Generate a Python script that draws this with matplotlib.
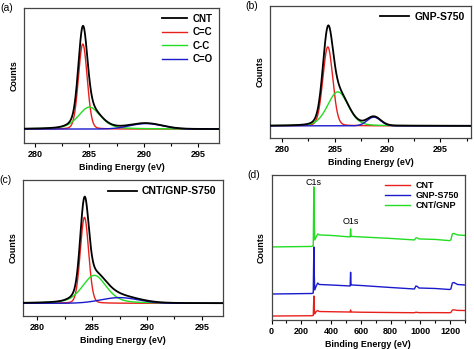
import numpy as np
import matplotlib
matplotlib.use('Agg')
from matplotlib import pyplot as plt
from matplotlib.ticker import MultipleLocator

plt.rcParams['font.family'] = ['Liberation Sans', 'DejaVu Sans']

# C1s fits: one row per component (C=C, C-C, C=O): centre / eV, height, fwhm / eV, lorentz fraction
cnt_centers = [284.4, 285.0, 290.2]
cnt_heights = [85, 22, 5.5]
cnt_fwhm = [0.95, 2.4, 3.5]
cnt_eta = [0.1, 0.4, 0.0]

gnp_centers = [284.35, 285.3, 288.7]
gnp_heights = [79, 34, 8.7]
gnp_fwhm = [1.1, 2.3, 1.5]
gnp_eta = [0.1, 0.2, 0.0]

mix_centers = [284.3, 285.2, 287.5]
mix_heights = [86, 28, 5.7]
mix_fwhm = [0.9, 2.6, 4.0]
mix_eta = [0.1, 0.4, 0.0]

component_names = ['C=C', 'C-C', 'C=O']
component_colors = ['#e8201c', '#22dd22', '#1a1acc']

# survey spectra
survey_ev = [0, 270, 280, 284, 286, 290, 300, 310, 320, 400, 528, 531, 534, 540, 600,
             800, 960, 970, 980, 990, 1100, 1195, 1205, 1215, 1225, 1250, 1300]
survey_cnt = [4, 4.3, 4.5, 24, 14, 6, 8.5, 9.5, 8.5, 8.3, 8, 10, 8, 8, 7.8,
              7.5, 7.3, 7.8, 7.6, 7.4, 7.4, 7.3, 7.5, 10, 10.2, 9.6, 9.5]
survey_gnp = [26, 26.5, 27, 73, 50, 30, 34, 37, 35.5, 35, 34, 47.7, 35, 35, 34.5,
              32.5, 31, 34, 33.5, 32, 31.5, 30.5, 31, 37, 37.5, 35.5, 35]
survey_mix = [73, 73.5, 74.5, 133, 100, 80, 83, 86, 85, 84.5, 83, 91, 83.5, 83.5, 83,
              81.5, 80, 82, 82, 81, 80.5, 79.3, 80, 86, 86.5, 85, 84.5]


def pseudo_voigt(x, center, height, fwhm, eta):
	g = np.exp(-4 * np.log(2) * ((x - center) / fwhm) ** 2)
	l = 1 / (1 + (2 * (x - center) / fwhm) ** 2)
	return height * ((1 - eta) * g + eta * l)


def style_axes(ax, label, major, minor):
	ax.xaxis.set_major_locator(MultipleLocator(major))
	ax.xaxis.set_minor_locator(MultipleLocator(minor))
	ax.tick_params(axis='x', which='both', direction='out', labelsize=6.5, width=0.8, pad=2)
	ax.tick_params(axis='x', which='major', length=3)
	ax.tick_params(axis='x', which='minor', length=2)
	ax.set_yticks([])
	for t in ax.get_xticklabels():
		t.set_fontweight('bold')
	for s in ax.spines.values():
		s.set_linewidth(0.9)
		s.set_color('#444444')
	ax.set_xlabel('Binding Energy (eV)', fontsize=6.4, fontweight='bold', labelpad=3)
	ax.set_ylabel('Counts', fontsize=6.4, fontweight='bold', labelpad=4)
	ax.text(-0.09, 1.0, label, transform=ax.transAxes, fontsize=7.5, ha='center', va='center')


def plot_fit(ax, xlim, ylim, centers, heights, fwhm, eta, name, show_parts):
	x = np.linspace(xlim[0], xlim[1], 900)
	total = np.zeros_like(x)
	handles = []
	for i in range(len(centers)):
		y = pseudo_voigt(x, centers[i], heights[i], fwhm[i], eta[i])
		total += y
		h, = ax.plot(x, y, c=component_colors[i], lw=1.0, label=component_names[i], zorder=2 + i)
		handles.append(h)
	hb, = ax.plot(x, total, c='black', lw=1.3, label=name, zorder=6)
	ax.set_xlim(*xlim)
	ax.set_ylim(*ylim)
	if show_parts:
		leg = ax.legend([hb] + handles, [name] + component_names, loc='upper right',
		                frameon=False, fontsize=7, handlelength=2.6, labelspacing=0.35,
		                borderaxespad=0.2, handletextpad=0.6)
	else:
		leg = ax.legend([hb], [name], loc='upper right', frameon=False, fontsize=7.5,
		                handlelength=2.8, borderaxespad=0.2, handletextpad=0.5)
	for t in leg.get_texts():
		t.set_fontweight('bold')


fig = plt.figure(figsize=(4.74, 3.49), dpi=100)

ax_a = fig.add_axes([0.0506, 0.590, 0.4114, 0.387])
plot_fit(ax_a, (279, 296.9), (-14, 121), cnt_centers, cnt_heights, cnt_fwhm, cnt_eta, 'CNT', True)
style_axes(ax_a, '(a)', 5, 2.5)

ax_b = fig.add_axes([0.570, 0.605, 0.424, 0.379])
plot_fit(ax_b, (278.9, 297.9), (-12, 120.3), gnp_centers, gnp_heights, gnp_fwhm, gnp_eta, 'GNP-S750', False)
style_axes(ax_b, '(b)', 5, 2.5)

ax_c = fig.add_axes([0.0485, 0.0954, 0.4215, 0.3886])
plot_fit(ax_c, (278.7, 296.9), (-12.4, 123.3), mix_centers, mix_heights, mix_fwhm, mix_eta, 'CNT/GNP-S750', False)
style_axes(ax_c, '(c)', 5, 2.5)

ax_d = fig.add_axes([0.573, 0.083, 0.408, 0.416])
ax_d.plot(survey_ev, survey_cnt, c='#e8201c', lw=1.0, label='CNT')
ax_d.plot(survey_ev, survey_gnp, c='#1a1acc', lw=1.0, label='GNP-S750')
ax_d.plot(survey_ev, survey_mix, c='#22dd22', lw=1.0, label='CNT/GNP')
ax_d.set_xlim(0, 1300)
ax_d.set_ylim(0, 145)
ax_d.text(284, 137, 'C1s', fontsize=6.5, ha='center', va='center')
ax_d.text(531, 98, 'O1s', fontsize=6.5, ha='center', va='center')
leg = ax_d.legend(loc='upper right', frameon=False, fontsize=6.5, handlelength=2.8,
                  labelspacing=0.1, borderaxespad=0.3, handletextpad=0.6)
for t in leg.get_texts():
	t.set_fontweight('bold')
style_axes(ax_d, '(d)', 200, 100)

fig.savefig('out.png', dpi=100)
